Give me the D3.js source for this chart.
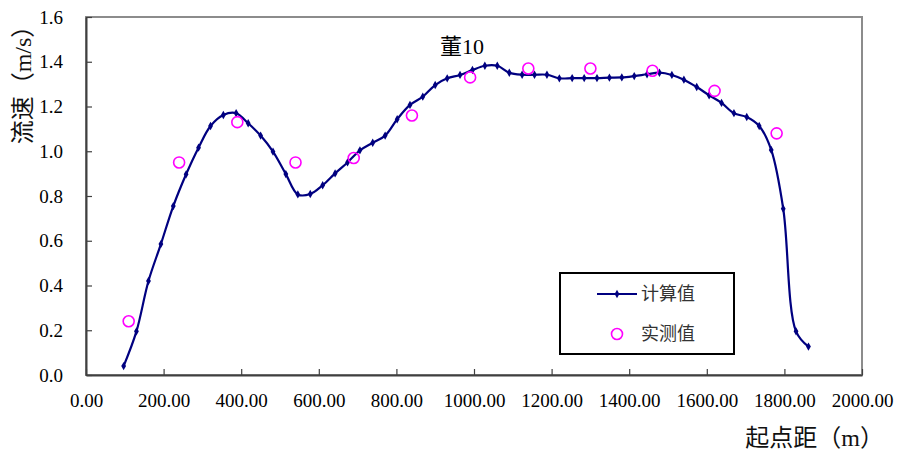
<!DOCTYPE html>
<html>
<head>
<meta charset="utf-8">
<script src="https://cdn.jsdelivr.net/npm/d3@7"></script>
<style>
  html, body { margin: 0; padding: 0; background: #fff; }
  svg { display: block; }
</style>
</head>
<body>
<svg id="chart" width="897" height="454"></svg>
<script>
// ---- data ----
const calcX = [97,130,161,193,225,258,290,321,354,387,418,450,482,515,546,578,610,642,674,706,739,771,802,835,868,900,931,964,996,1028,1060,1091,1124,1156,1188,1220,1253,1284,1317,1349,1381,1413,1446,1478,1510,1541,1574,1606,1638,1670,1703,1735,1766,1797,1830,1862];
const calcY = [0.04,0.195,0.42,0.585,0.755,0.897,1.016,1.113,1.162,1.17,1.125,1.07,0.998,0.898,0.807,0.809,0.848,0.901,0.95,1.004,1.038,1.07,1.143,1.207,1.244,1.296,1.326,1.341,1.363,1.382,1.382,1.351,1.342,1.342,1.342,1.326,1.327,1.327,1.327,1.329,1.33,1.336,1.344,1.351,1.341,1.32,1.287,1.25,1.216,1.17,1.153,1.113,1.006,0.743,0.195,0.127];
const measX = [110,240,390,540,690,840,990,1140,1300,1460,1620,1780];
const measY = [0.24,0.95,1.13,0.95,0.97,1.16,1.33,1.37,1.37,1.36,1.27,1.08];
const xTicks = [0,200,400,600,800,1000,1200,1400,1600,1800,2000];
const yTicks = [0,0.2,0.4,0.6,0.8,1.0,1.2,1.4,1.6];
const seriesNames = ["计算值", "实测值"];
const chartTitle = "董10";
const xTitle = "起点距（m）";
const yTitle = "流速（m/s）";

const SERIF = "'Liberation Serif', 'Noto Sans CJK SC', serif";

// ---- layout ----
const W = 897, H = 454;
const m = {left: 86, top: 17, right: 35, bottom: 79};
const iw = W - m.left - m.right, ih = H - m.top - m.bottom;
const svg = d3.select("#chart");
const g = svg.append("g").attr("transform", `translate(${m.left},${m.top})`);

const x = d3.scaleLinear().domain([0, 2000]).range([0, iw]);
const y = d3.scaleLinear().domain([0, 1.6]).range([ih, 0]);

// frame (top/right gray)
g.append("rect").attr("x", 0).attr("y", 0).attr("width", iw).attr("height", ih)
  .attr("fill", "none").attr("stroke", "#8c8c8c").attr("stroke-width", 2);

// axes
const xAxis = d3.axisBottom(x).tickValues(xTicks).tickFormat(d3.format(".2f")).tickSizeInner(-6).tickSizeOuter(0).tickPadding(19);
const yAxis = d3.axisLeft(y).tickValues(yTicks).tickFormat(d3.format(".1f")).tickSizeInner(-6).tickSizeOuter(0).tickPadding(23);
const gx = g.append("g").attr("transform", `translate(0,${ih})`).call(xAxis);
const gy = g.append("g").call(yAxis);
[gx, gy].forEach(a => {
  a.attr("font-family", null).attr("font-size", null);
  a.selectAll("path").attr("stroke", "#404040").attr("stroke-width", 2);
  a.selectAll("line").attr("stroke", "#404040").attr("stroke-width", 1.2);
  a.selectAll("text").style("font-family", SERIF).style("font-size", "19px").attr("fill", "#000");
});
gx.selectAll("text").attr("dy", "0.71em");

// computed line
const pts = calcX.map((d, i) => [d, calcY[i]]);
const line = d3.line().x(d => x(d[0])).y(d => y(d[1])).curve(d3.curveCatmullRom.alpha(0.5));
g.append("path").datum(pts).attr("d", line)
  .attr("fill", "none").attr("stroke", "#000080").attr("stroke-width", 2.2);
const diamond = d3.symbol().type(d3.symbolDiamond).size(20);
g.selectAll(".mk").data(pts).enter().append("path")
  .attr("d", diamond).attr("transform", d => `translate(${x(d[0])},${y(d[1])})`)
  .attr("fill", "#000080");

// measured points
g.selectAll(".ms").data(measX.map((d, i) => [d, measY[i]])).enter().append("circle")
  .attr("cx", d => x(d[0])).attr("cy", d => y(d[1])).attr("r", 5.5)
  .attr("fill", "none").attr("stroke", "#ff00ff").attr("stroke-width", 1.6);

// title
svg.append("text").attr("x", 440).attr("y", 54).style("font-family", SERIF)
  .style("font-size", "22px").text(chartTitle);

// axis titles
svg.append("text").attr("x", 884).attr("y", 446).attr("text-anchor", "end")
  .style("font-family", SERIF).style("font-size", "24px").style("fill", "#111").text(xTitle);
svg.append("text").attr("transform", "translate(31,79) rotate(-90)").attr("text-anchor", "middle")
  .style("font-family", SERIF).style("font-size", "24px").style("fill", "#111").text(yTitle);

// legend
const lg = svg.append("g");
lg.append("rect").attr("x", 560).attr("y", 273).attr("width", 174).attr("height", 81)
  .attr("fill", "#fff").attr("stroke", "#000").attr("stroke-width", 2);
lg.append("line").attr("x1", 597).attr("x2", 637).attr("y1", 294).attr("y2", 294)
  .attr("stroke", "#000080").attr("stroke-width", 2.2);
lg.append("path").attr("d", diamond).attr("transform", "translate(617,294)").attr("fill", "#000080");
lg.append("circle").attr("cx", 617).attr("cy", 334).attr("r", 5.5)
  .attr("fill", "none").attr("stroke", "#ff00ff").attr("stroke-width", 1.6);
lg.selectAll(".lt").data(seriesNames).enter().append("text")
  .attr("x", 641).attr("y", (d, i) => 294 + i * 40).attr("dy", "0.35em")
  .style("font-size", "18px").style("font-family", "'Noto Sans CJK SC', sans-serif").style("fill", "#333").text(d => d);
</script>
</body>
</html>
